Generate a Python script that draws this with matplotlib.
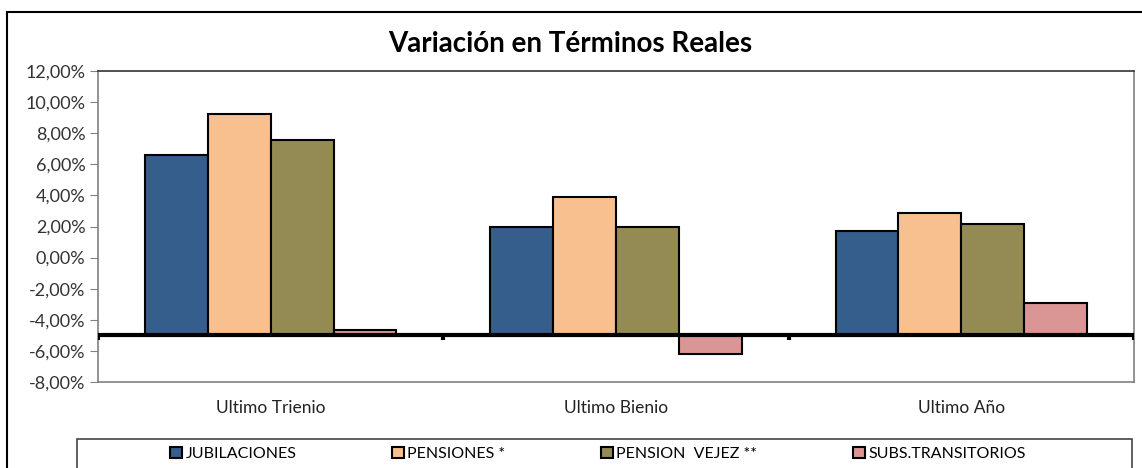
import numpy as np
import matplotlib.pyplot as plt
from matplotlib.patches import Rectangle
from matplotlib.ticker import FuncFormatter

plt.rcParams['font.family'] = ['Lato', 'DejaVu Sans']

# Datos (variación % en términos reales)
categories = ['Ultimo Trienio', 'Ultimo Bienio', 'Ultimo Año']
series_names = ['JUBILACIONES', 'PENSIONES *', 'PENSION  VEJEZ **', 'SUBS.TRANSITORIOS']
jubilaciones = [6.57, 2.00, 1.73]
pensiones = [9.25, 3.87, 2.85]
pension_vejez = [7.58, 2.00, 2.18]
subs_transitorios = [-4.63, -6.18, -2.95]
colors = ['#355E8D', '#F9C08F', '#948A54', '#D99694']

base = -5.0  # el eje horizontal cruza en -5%

fig = plt.figure(figsize=(11.42, 4.68), dpi=100)
ax = fig.add_axes([98 / 1142, 1 - 382 / 468, (1134 - 98) / 1142, (382 - 71) / 468])

x = np.arange(len(categories)) + 0.5
bar_w = 0.182
offsets = (np.arange(4) - 1.5) * bar_w
all_series = [jubilaciones, pensiones, pension_vejez, subs_transitorios]
for vals, off, col, name in zip(all_series, offsets, colors, series_names):
    vals = np.array(vals)
    ax.bar(x + off, vals - base, bottom=base, width=bar_w, color=col,
           edgecolor='black', linewidth=1.5, label=name, zorder=3)

# eje horizontal en -5%
ax.axhline(base, color='black', linewidth=3, zorder=4)
ax.vlines(np.arange(len(categories) + 1), base - 0.3, base, color='black', linewidth=3, zorder=4)

ax.set_xlim(0, len(categories))
ax.set_ylim(-8, 12)
ax.set_yticks(np.arange(-8, 13, 2))
ax.yaxis.set_major_formatter(FuncFormatter(lambda v, p: f'{v:.2f}%'.replace('.', ',')))
ax.tick_params(axis='y', direction='out', length=6, color='#808080', labelsize=13,
               labelcolor='#333333', pad=3)
ax.set_xticks([])
for i, c in enumerate(categories):
    ax.text(i + 0.5, -9.7, c, ha='center', va='center', fontsize=12.5, color='#222222')

for s in ax.spines.values():
    s.set_color('#808080')
    s.set_linewidth(1.2)
ax.spines['top'].set_color('#333333')

fig.text(570 / 1142, 1 - 44 / 468, 'Variación en Términos Reales', ha='center', va='center',
         fontsize=20, fontweight='bold')

# marco exterior del gráfico
fig.patches.append(Rectangle((7 / 1142, -0.1), 1.2, 1 - 12 / 468 + 0.1, transform=fig.transFigure,
                             fill=False, edgecolor='black', linewidth=1.5))
# marco de la leyenda
fig.patches.append(Rectangle((77 / 1142, -0.1), (1132 - 77) / 1142, 1 - 439 / 468 + 0.1,
                             transform=fig.transFigure, fill=False, edgecolor='#444444', linewidth=1.2))

fig.legend(loc='center', bbox_to_anchor=(598 / 1142, 1 - 454 / 468), ncol=4, frameon=False,
           fontsize=11.5, handlelength=0.75, handleheight=0.75, handletextpad=0.2,
           columnspacing=6.0, borderaxespad=0)

fig.savefig('out.png', dpi=100)
